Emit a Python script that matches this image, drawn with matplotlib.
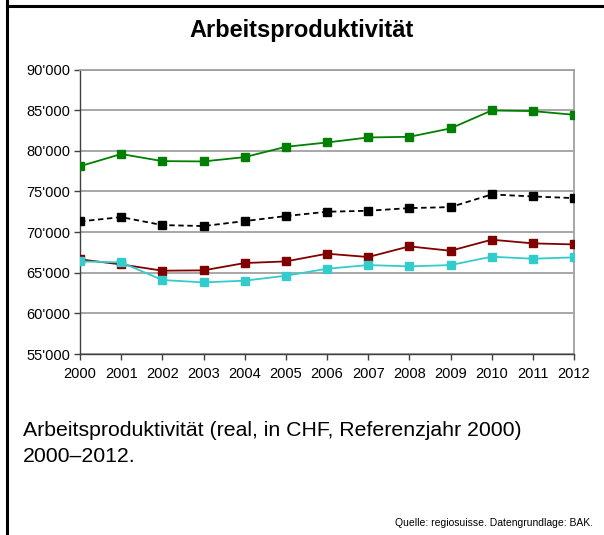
import matplotlib
matplotlib.use("Agg")
import matplotlib.pyplot as plt
from matplotlib.lines import Line2D
from matplotlib.ticker import FuncFormatter

years = [2000, 2001, 2002, 2003, 2004, 2005, 2006, 2007, 2008, 2009, 2010, 2011, 2012]
green = [78100, 79600, 78730, 78690, 79220, 80490, 81020, 81640, 81720, 82750, 84960, 84880, 84430]
black = [71310, 71840, 70860, 70740, 71350, 71970, 72500, 72620, 72950, 73070, 74630, 74380, 74180]
red = [66640, 66020, 65250, 65290, 66190, 66390, 67340, 66930, 68240, 67700, 69060, 68610, 68480]
cyan = [66390, 66270, 64100, 63810, 64020, 64630, 65490, 65940, 65780, 65940, 66970, 66720, 66890]
yticks = [55000, 60000, 65000, 70000, 75000, 80000, 85000, 90000]

plt.rcParams['font.family'] = ['Liberation Sans', 'DejaVu Sans']

fig = plt.figure(figsize=(6.04, 5.35), dpi=100)
ax = fig.add_axes([80/604, 1-354/535, (574-80)/604, (354-69.5)/535])

ms = 6
ax.plot(years, green, color='#008000', lw=1.3, marker='s', ms=ms, zorder=4)
ax.plot(years, black, color='black', lw=1.3, ls=(0, (3, 2)), marker='s', ms=ms, zorder=4)
ax.plot(years, red, color='#800000', lw=1.3, marker='s', ms=ms, zorder=4)
ax.plot(years, cyan, color='#33CCCC', lw=1.3, marker='s', ms=ms, zorder=4)

ax.set_xlim(2000, 2012)
ax.set_ylim(55000, 90000)
ax.set_xticks(years)
ax.set_yticks(yticks)
ax.yaxis.set_major_formatter(FuncFormatter(lambda v, p: f"{int(v)//1000}'000"))
ax.grid(axis='y', color='#A0A0A0', lw=1.3)
ax.set_axisbelow(True)
for s in ['top', 'right']:
    ax.spines[s].set_color('#A0A0A0')
    ax.spines[s].set_linewidth(1.3)
for s in ['left', 'bottom']:
    ax.spines[s].set_color('#404040')
    ax.spines[s].set_linewidth(1.0)
ax.tick_params(axis='both', direction='out', length=4, width=1, color='#404040', labelsize=10.5)
ax.tick_params(axis='y', pad=3)
ax.tick_params(axis='x', pad=5)
for lbl in ax.get_xticklabels() + ax.get_yticklabels():
    lbl.set_clip_on(False)

fig.text(302/604, 1-31/535, 'Arbeitsproduktivität', ha='center', va='center', fontsize=17, fontweight='bold')
fig.text(23/604, 1-430/535, 'Arbeitsproduktivität (real, in CHF, Referenzjahr 2000)', ha='left', va='center', fontsize=15.3)
fig.text(23/604, 1-456/535, '2000–2012.', ha='left', va='center', fontsize=15.3)
fig.text(593/604, 1-523/535, 'Quelle: regiosuisse. Datengrundlage: BAK.', ha='right', va='center', fontsize=7.5)

fig.add_artist(Line2D([6.5/604, 6.5/604], [0, 1], transform=fig.transFigure, color='black', lw=2.2))
fig.add_artist(Line2D([6.5/604, 1], [1-5.5/535, 1-5.5/535], transform=fig.transFigure, color='black', lw=2.2))

fig.savefig('out.png', dpi=100)
